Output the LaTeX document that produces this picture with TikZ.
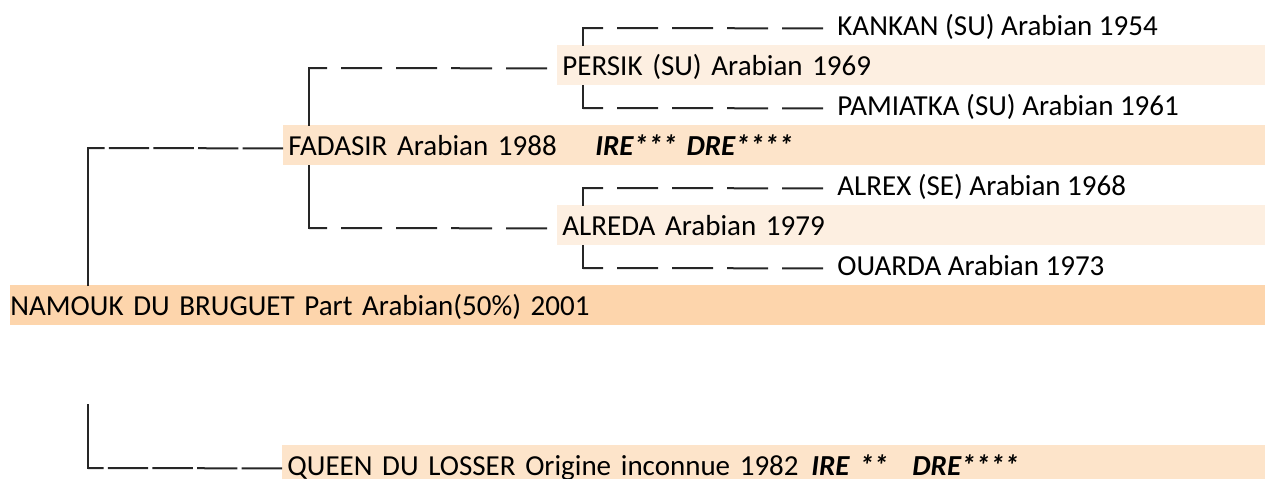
\documentclass[tikz,border=0pt]{standalone}
\usepackage{fontspec}
\setmainfont{Carlito}
\definecolor{bandDark}{HTML}{FDD5AC}
\definecolor{bandMid}{HTML}{FDE4CA}
\definecolor{bandLight}{HTML}{FDEFE1}
\definecolor{lineCol}{HTML}{262626}
\begin{document}
\begin{tikzpicture}[x=0.5pt,y=-0.5pt,
  band/.style={anchor=north west, inner ysep=0pt, inner xsep=2.5pt,
    text height=15pt, text depth=5pt, align=left,
    font=\fontsize{14.5pt}{17pt}\selectfont},
  conn/.style={draw=lineCol, line width=1pt},
  vline/.style={conn, line cap=rect},
  dashA/.style={conn, dash pattern=on 20.2pt off 2.1pt},
  dashB/.style={conn, dash pattern=on 20.5pt off 7pt},
  note/.style={font=\fontsize{14.5pt}{17pt}\selectfont\bfseries\itshape}
]
\useasboundingbox (0,0) rectangle (1265,478);

% persons
\node[band] (kankan)   at (832,5)   {KANKAN (SU) Arabian 1954};
\node[band, fill=bandLight, text width=349pt] (persik) at (557,45) {PERSIK (SU) Arabian 1969};
\node[band] (pamiatka) at (832,85)  {PAMIATKA (SU) Arabian 1961};
\node[band, fill=bandMid, text width=486pt] (fadasir) at (283,125)
  {\makebox[153.5pt][l]{FADASIR Arabian 1988}{\bfseries\itshape IRE*** DRE****}};
\node[band] (alrex)    at (832,165) {ALREX (SE) Arabian 1968};
\node[band, fill=bandLight, text width=349pt] (alreda) at (557,205) {ALREDA Arabian 1979};
\node[band] (ouarda)   at (832,245) {OUARDA Arabian 1973};
\node[band, fill=bandDark, inner xsep=0pt, text width=627.5pt] (namouk) at (10,285)
  {NAMOUK DU BRUGUET Part Arabian(50\%) 2001};
\node[band, fill=bandMid, text width=486.5pt] (queen) at (282,445)
  {\makebox[262pt][l]{QUEEN DU LOSSER Origine inconnue 1982}{\bfseries\itshape\makebox[50.5pt][l]{IRE **}DRE****}};

% corners
\coordinate (c0) at (88,148);
\coordinate (c9) at (88,405);
\coordinate (c10) at (88,468);
\coordinate (c1) at (309,68);
\coordinate (c2) at (309,228);
\coordinate (c3) at (583,28);
\coordinate (c4) at (583,108);
\coordinate (c5) at (583,188);
\coordinate (c6) at (583,268);

% level 1
\draw[dashA] ([yshift=-1.5pt]fadasir.west) -- (c0);
\draw[vline] (c0) -- (c0 |- namouk.north);
\draw[dashA] ([yshift=-1.5pt]queen.west) -- (c10);
\draw[vline] (c9) -- (c10);

% level 2
\draw[dashB, shorten <=5pt] ([yshift=-1.5pt]persik.west) -- (c1);
\draw[vline] (c1) -- (c1 |- fadasir.north);
\draw[dashB, shorten <=5pt] ([yshift=-1.5pt]alreda.west) -- (c2);
\draw[vline] (c2) -- (c2 |- fadasir.south);

% level 3
\draw[dashB, shorten <=4.5pt] ([yshift=-1.5pt]kankan.west) -- (c3);
\draw[vline] (c3) -- (c3 |- persik.north);
\draw[dashB, shorten <=4.5pt] ([yshift=-1.5pt]pamiatka.west) -- (c4);
\draw[vline] (c4) -- (c4 |- persik.south);
\draw[dashB, shorten <=4.5pt] ([yshift=-1.5pt]alrex.west) -- (c5);
\draw[vline] (c5) -- (c5 |- alreda.north);
\draw[dashB, shorten <=4.5pt] ([yshift=-1.5pt]ouarda.west) -- (c6);
\draw[vline] (c6) -- (c6 |- alreda.south);
\end{tikzpicture}
\end{document}
